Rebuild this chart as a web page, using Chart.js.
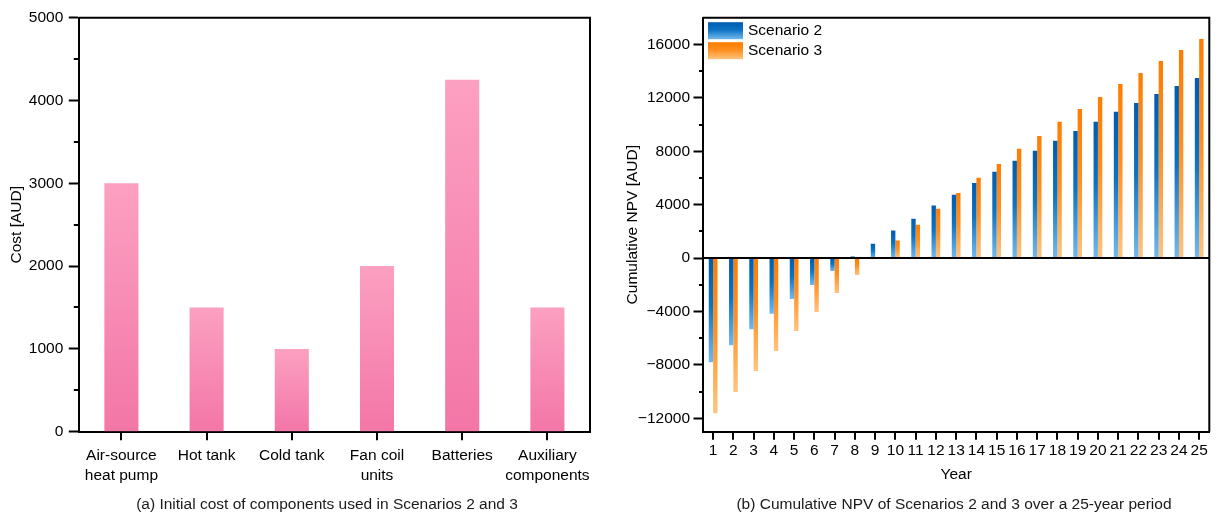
<!DOCTYPE html>
<html><head><meta charset="utf-8">
<script src="https://cdn.jsdelivr.net/npm/chart.js@4.4.1/dist/chart.umd.min.js"></script>
<style>
html,body{margin:0;padding:0;background:#fff;width:1218px;height:514px;overflow:hidden;}
#c1{position:absolute;left:0;top:0;}
#c2{position:absolute;left:610px;top:0;}
.cap{position:absolute;font-family:"Liberation Sans",Arial,sans-serif;font-size:15.5px;color:#1a1a1a;white-space:nowrap;transform:translate(-50%,-50%);}
</style></head><body>
<canvas id="c1" width="610" height="514"></canvas>
<canvas id="c2" width="608" height="514"></canvas>
<div class="cap" style="left:327px;top:504px">(a) Initial cost of components used in Scenarios 2 and 3</div>
<div class="cap" style="left:954px;top:504px">(b) Cumulative NPV of Scenarios 2 and 3 over a 25-year period</div>
<script>
// ---- data ----
const components = [["Air-source","heat pump"],"Hot tank","Cold tank",["Fan coil","units"],"Batteries",["Auxiliary","components"]];
const componentCost = [3000,1500,1000,2000,4250,1500];
const costTickValues = [0,1000,2000,3000,4000,5000];

const years = ["1","2","3","4","5","6","7","8","9","10","11","12","13","14","15","16","17","18","19","20","21","22","23","24","25"];
const scenario2NPV = [-7800,-6530,-5330,-4160,-3070,-2020,-970,110,1080,2060,2950,3930,4740,5630,6460,7280,8030,8780,9520,10200,10950,11620,12290,12890,13490];
const scenario3NPV = [-11620,-10020,-8450,-6960,-5460,-4040,-2620,-1270,40,1310,2500,3700,4880,6010,7050,8180,9150,10200,11170,12070,13040,13860,14760,15580,16400];
const seriesNames = ["Scenario 2","Scenario 3"];
const npvTickValues = [-12000,-8000,-4000,0,4000,8000,12000,16000];

const costRange = {min:0, max:5000};
const npvRange = {min:-13000, max:18000};

// ---- styling ----
const FS = 15.5;
Chart.defaults.font.family = '"Liberation Sans", Arial, sans-serif';
Chart.defaults.font.size = FS;
Chart.defaults.color = '#000';

const PINK = [[0,'#FCA0C1'],[1,'#F376A7']];
const BLUE = [[0,'#005CB0'],[0.45,'#0C72C2'],[1,'#72B9EE']];
const ORANGE = [[0,'#FF7C00'],[0.45,'#FF8E1E'],[1,'#FFC47E']];

function gradFill(stops){
  return function(context){
    const chart = context.chart;
    const ys = chart.scales && chart.scales.y;
    if (!ys || context.type !== 'data' || !chart.chartArea) return stops[0][1];
    const p0 = ys.getPixelForValue(0), p1 = ys.getPixelForValue(context.raw);
    const top = Math.min(p0,p1), bot = Math.max(p0,p1);
    if (bot - top < 1) return stops[0][1];
    const g = chart.ctx.createLinearGradient(0, top, 0, bot);
    stops.forEach(s => g.addColorStop(s[0], s[1]));
    return g;
  };
}

const framePlugin = {
  id:'frame',
  afterDatasetsDraw(chart, args, opts){
    const {ctx, chartArea:a} = chart;
    ctx.save();
    ctx.strokeStyle = '#000'; ctx.lineWidth = 2;
    ctx.beginPath();
    ctx.moveTo(a.left, a.top); ctx.lineTo(a.right, a.top); ctx.lineTo(a.right, a.bottom);
    ctx.stroke();
    if (opts.zero){
      const y0 = chart.scales.y.getPixelForValue(0);
      ctx.beginPath(); ctx.moveTo(a.left, y0); ctx.lineTo(a.right, y0); ctx.stroke();
    }
    ctx.restore();
  }
};

const minorTicksPlugin = {
  id:'minorTicks',
  afterDraw(chart, args, opts){
    const s = chart.scales.y, ctx = chart.ctx;
    const t = s.ticks.map(k => k.value);
    if (t.length < 2) return;
    const step = t[1]-t[0];
    const vals = t.map(v => v - step/2).concat([t[t.length-1] + step/2]);
    ctx.save(); ctx.strokeStyle = '#000'; ctx.lineWidth = 2;
    const x = chart.chartArea.left;
    vals.forEach(v => {
      if (v <= s.min || v >= s.max) return;
      const y = Math.round(s.getPixelForValue(v));
      ctx.beginPath(); ctx.moveTo(x - (opts.len||5), y); ctx.lineTo(x, y); ctx.stroke();
    });
    ctx.restore();
  }
};

const legendPlugin = {
  id:'boxLegend',
  afterDraw(chart, args, opts){
    if (!opts.show) return;
    const {ctx, chartArea:a} = chart;
    const fills = [BLUE, ORANGE];
    ctx.save();
    chart.data.datasets.forEach((ds, i) => {
      const x = a.left + 5, y = a.top + 4.5 + i*20, w = 35, h = 17;
      const g = ctx.createLinearGradient(0, y, 0, y+h);
      fills[i].forEach(s => g.addColorStop(s[0], s[1]));
      ctx.fillStyle = g; ctx.fillRect(x, y, w, h);
      ctx.fillStyle = '#000';
      ctx.font = FS + 'px "Liberation Sans", Arial, sans-serif';
      ctx.textBaseline = 'middle'; ctx.textAlign = 'left';
      ctx.fillText(ds.label, x + w + 5, y + h/2 + 0.5);
    });
    ctx.restore();
  }
};

const fmt = v => v < 0 ? '\u2212' + Math.abs(v) : String(v);

// ---- left chart ----
new Chart(document.getElementById('c1'), {
  type:'bar',
  data:{ labels: components, datasets:[{ label:'Cost', data: componentCost, backgroundColor: gradFill(PINK), borderWidth:0, categoryPercentage:0.4, barPercentage:1 }] },
  options:{
    responsive:false, animation:false, devicePixelRatio:1,
    layout:{ padding:{ top:17.7, right:20, bottom:20, left:0 } },
    plugins:{ legend:{display:false}, tooltip:{enabled:false}, frame:{}, minorTicks:{len:5}, boxLegend:{show:false} },
    scales:{
      x:{
        offset:true,
        grid:{ offset:false, drawOnChartArea:false, color:'#000', tickColor:'#000', tickWidth:2, tickLength:8.5, lineWidth:2 },
        border:{ display:true, color:'#000', width:2 },
        ticks:{ padding:5.5, maxRotation:0, autoSkip:false, font:{ size:FS, lineHeight:1.29 } },
        afterFit: s => { s.height = 62.3; }
      },
      y:{
        min: costRange.min, max: costRange.max,
        grid:{ drawOnChartArea:false, color:'#000', tickColor:'#000', tickWidth:2, tickLength:10 },
        border:{ display:true, color:'#000', width:2 },
        ticks:{ padding:5.5, callback: fmt },
        afterBuildTicks: s => { s.ticks = costTickValues.map(v => ({value:v})); },
        title:{ display:true, text:'Cost [AUD]', font:{size:FS}, padding:{top:7, bottom:0} },
        afterFit: s => { s.width = 78.8; }
      }
    }
  },
  plugins:[framePlugin, minorTicksPlugin, legendPlugin]
});

// ---- right chart ----
new Chart(document.getElementById('c2'), {
  type:'bar',
  data:{ labels: years, datasets:[
    { label: seriesNames[0], data: scenario2NPV, backgroundColor: gradFill(BLUE), borderWidth:0, categoryPercentage:0.43, barPercentage:1 },
    { label: seriesNames[1], data: scenario3NPV, backgroundColor: gradFill(ORANGE), borderWidth:0, categoryPercentage:0.43, barPercentage:1 }
  ]},
  options:{
    responsive:false, animation:false, devicePixelRatio:1,
    layout:{ padding:{ top:17.7, right:8.7, bottom:20, left:0 } },
    plugins:{ legend:{display:false}, tooltip:{enabled:false}, frame:{zero:true}, minorTicks:{len:4}, boxLegend:{show:true} },
    scales:{
      x:{
        offset:true,
        grid:{ offset:false, drawOnChartArea:false, color:'#000', tickColor:'#000', tickWidth:2, tickLength:8, lineWidth:2 },
        border:{ display:true, color:'#000', width:2 },
        ticks:{ padding:2, maxRotation:0, autoSkip:false },
        title:{ display:true, text:'Year', font:{size:FS}, padding:{top:0, bottom:10} },
        afterFit: s => { s.height = 62.3; }
      },
      y:{
        min: npvRange.min, max: npvRange.max,
        grid:{ drawOnChartArea:false, color:'#000', tickColor:'#000', tickWidth:2, tickLength:9.5 },
        border:{ display:true, color:'#000', width:2 },
        ticks:{ padding:3.5, callback: fmt },
        afterBuildTicks: s => { s.ticks = npvTickValues.map(v => ({value:v})); },
        title:{ display:true, text:'Cumulative NPV [AUD]', font:{size:FS}, padding:{top:13, bottom:0} },
        afterFit: s => { s.width = 93; }
      }
    }
  },
  plugins:[framePlugin, minorTicksPlugin, legendPlugin]
});
</script>
</body></html>
